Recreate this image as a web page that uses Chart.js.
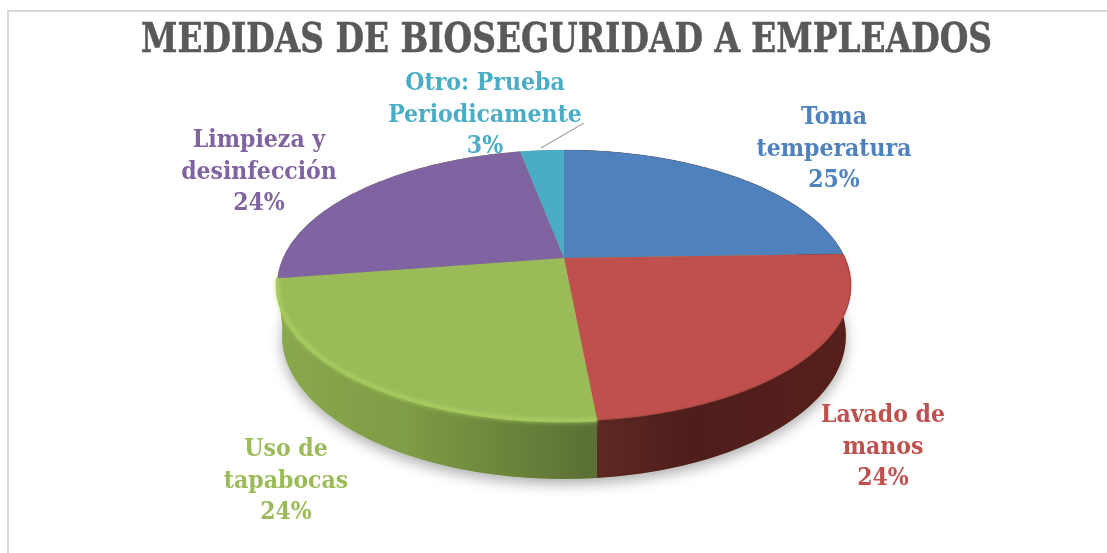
<!DOCTYPE html>
<html><head><meta charset="utf-8">
<style>html,body{margin:0;padding:0;background:#fff}#w{position:relative;width:1107px;height:553px;overflow:hidden}canvas{display:block}</style>
<script src="https://cdn.jsdelivr.net/npm/chart.js@4/dist/chart.umd.min.js"></script>
</head><body><div id="w"><canvas id="c" width="1107" height="553"></canvas></div>
<script>
const titleText = 'MEDIDAS DE BIOSEGURIDAD A EMPLEADOS';
const categories = ['Toma temperatura','Lavado de manos','Uso de tapabocas','Limpieza y desinfección','Otro: Prueba Periodicamente'];
const values = [24.5,24.0,24.1,24.4,3.0];
const colors = ['#4f81bd','#c0504d','#9bbb59','#8064a2','#4bacc6'];
const labelLines = [['Toma','temperatura'],['Lavado de','manos'],['Uso de','tapabocas'],['Limpieza y','desinfección'],['Otro: Prueba','Periodicamente']];
const labelPos = [[834,118],[883,416],[286,450],[259,141],[485,84]];

const top3d = {cx:564,cy:258,a:281,b:130,p:0.203};
const bot3d = {cx:564,cy:307,a:276,b:137,p:0.203};
const proj=(g,t)=>{const u=Math.cos(t),v=Math.sin(t),d=1-g.p*v;return [g.cx+g.a*u/d,g.cy+g.b*v/d];};
const wallStops=[
 [[0,'#571f1c'],[1,'#571f1c']],
 [[0,'#5e2824'],[0.35,'#4e1e1b'],[1,'#571f1c']],
 [[0,'#8aa84c'],[0.4,'#7f9c46'],[0.7,'#6c863c'],[1,'#5a6f34']],
 [[0,'#8aa84c'],[1,'#8aa84c']],
 [[0,'#8aa84c'],[1,'#8aa84c']]];
const wallX=[[597,851],[597,851],[277,597],[277,597],[277,597]];
function rimPath(ctx,g,s,e,move){const n=80;for(let i=0;i<=n;i++){const q=proj(g,s+(e-s)*i/n);(i==0&&move)?ctx.moveTo(q[0],q[1]):ctx.lineTo(q[0],q[1]);}}
const pie3d={id:'pie3d',
 beforeDatasetDraw(chart){
  const ctx=chart.ctx,arcs=chart.getDatasetMeta(0).data;
  const t0=arcs[0].startAngle,t1=arcs[arcs.length-1].endAngle;
  ctx.save();ctx.shadowColor='rgba(0,0,0,0.33)';ctx.shadowBlur=14;ctx.shadowOffsetY=5;ctx.fillStyle='#8aa84c';
  ctx.beginPath();rimPath(ctx,bot3d,t0,t1,true);ctx.closePath();ctx.fill();ctx.restore();
  arcs.forEach((arc,i)=>{
   ctx.beginPath();rimPath(ctx,top3d,arc.startAngle,arc.endAngle,true);rimPath(ctx,bot3d,arc.endAngle,arc.startAngle,false);ctx.closePath();
   const g=ctx.createLinearGradient(wallX[i][0],0,wallX[i][1],0);wallStops[i].forEach(s=>g.addColorStop(s[0],s[1]));ctx.fillStyle=g;
   ctx.fill();
  });
  arcs.forEach((arc,i)=>{
   ctx.beginPath();ctx.moveTo(top3d.cx,top3d.cy);rimPath(ctx,top3d,arc.startAngle,arc.endAngle,false);ctx.closePath();
   ctx.fillStyle=colors[i];ctx.fill();
  });
  const green=arcs[2],red=arcs[1];
  ctx.save();
  ctx.beginPath();rimPath(ctx,top3d,green.startAngle,green.endAngle,true);
  ctx.shadowColor='#b9dc6c';ctx.shadowBlur=4;ctx.strokeStyle='#a6c95d';ctx.lineWidth=2.5;ctx.stroke();
  ctx.restore();
  ctx.save();
  ctx.beginPath();rimPath(ctx,top3d,red.startAngle,red.endAngle,true);
  ctx.shadowColor='rgba(120,50,45,0.5)';ctx.shadowBlur=3;ctx.strokeStyle='rgba(150,60,56,0.6)';ctx.lineWidth=1;ctx.stroke();
  ctx.restore();
  ctx.save();
  ctx.beginPath();rimPath(ctx,top3d,arcs[0].startAngle,arcs[0].endAngle,true);ctx.strokeStyle='rgba(60,70,90,0.2)';ctx.lineWidth=1;ctx.stroke();
  ctx.restore();
  return false;
 },
 afterDraw(chart){
  const ctx=chart.ctx,total=values.reduce((a,b)=>a+b,0);
  ctx.save();
  ctx.strokeStyle='#a6a6a6';ctx.lineWidth=1.3;ctx.beginPath();ctx.moveTo(541,148);ctx.lineTo(584,123);ctx.stroke();
  ctx.textAlign='center';ctx.textBaseline='middle';
  ctx.fillStyle='#595959';ctx.strokeStyle='#595959';ctx.lineWidth=0.5;ctx.font='bold 41px "DejaVu Serif Condensed"';
  ctx.fillText(titleText,566.5,41,851);ctx.strokeText(titleText,566.5,41,851);
  ctx.font='bold 24.5px "DejaVu Serif Condensed"';
  categories.forEach((c,i)=>{
   ctx.fillStyle=colors[i];
   const lines=[...labelLines[i],Math.round(values[i]/total*100)+'%'];
   lines.forEach((l,k)=>ctx.fillText(l,labelPos[i][0],labelPos[i][1]+k*31.5));
  });
  ctx.restore();
 }};
const frame={id:'frame',beforeDraw(chart){const ctx=chart.ctx;ctx.save();ctx.fillStyle='#d9d9d9';ctx.fillRect(7,10,1100,2);ctx.fillRect(7,10,2,543);ctx.restore();}};
new Chart(document.getElementById('c'),{
 type:'pie',
 data:{labels:categories,datasets:[{data:values,backgroundColor:colors,borderWidth:0}]},
 plugins:[frame,pie3d],
 options:{responsive:false,animation:false,
  plugins:{legend:{display:false},tooltip:{enabled:false},title:{display:false}}}
});
</script></body></html>
